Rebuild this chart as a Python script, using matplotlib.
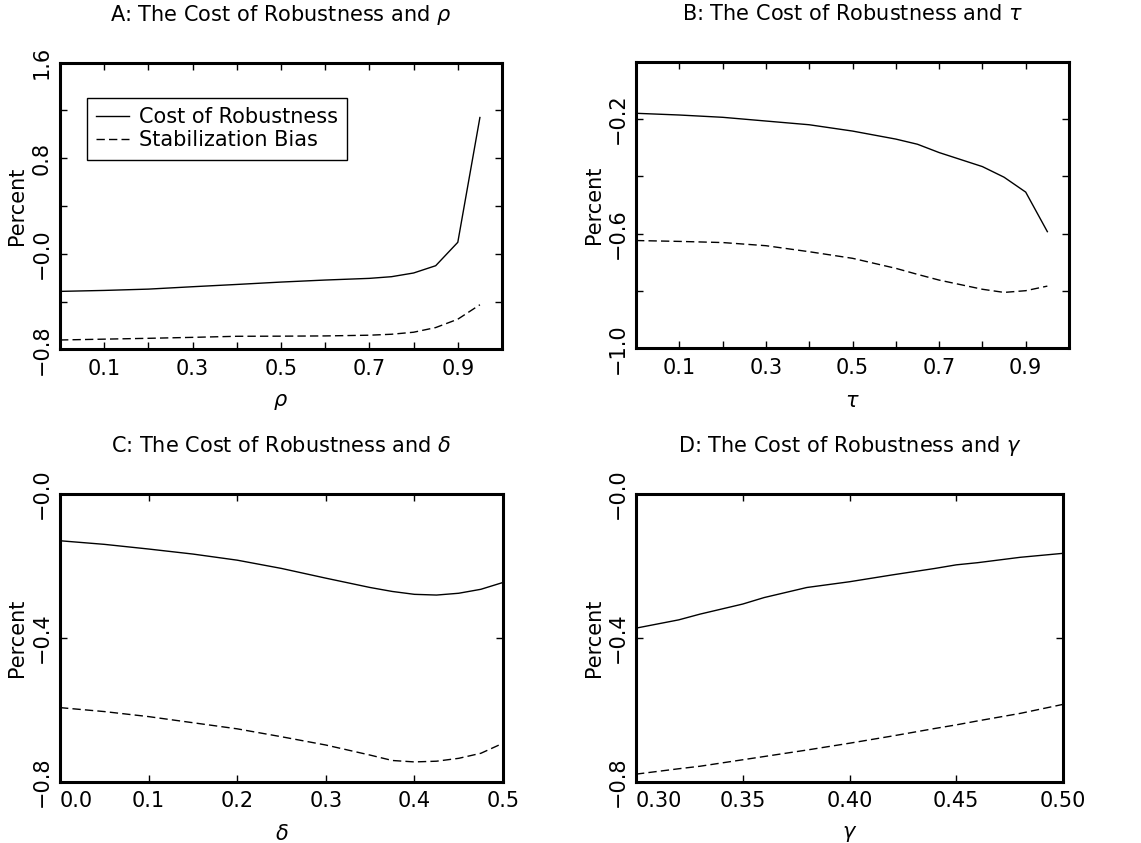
import numpy as np
import matplotlib.pyplot as plt
from matplotlib.ticker import FixedLocator, FixedFormatter

# Panel A: rho
rho = [0.0, 0.1, 0.2, 0.3, 0.4, 0.5, 0.6, 0.7, 0.75, 0.8, 0.85, 0.9, 0.95]
cost_rho = [-0.315, -0.307, -0.296, -0.276, -0.257, -0.237, -0.220, -0.206, -0.192, -0.161, -0.100, 0.096, 1.141]
bias_rho = [-0.722, -0.715, -0.708, -0.700, -0.691, -0.690, -0.688, -0.682, -0.674, -0.657, -0.618, -0.548, -0.427]

# Panel B: tau
tau = [0.0, 0.1, 0.2, 0.3, 0.4, 0.5, 0.6, 0.65, 0.7, 0.8, 0.85, 0.9, 0.95]
cost_tau = [-0.180, -0.186, -0.194, -0.207, -0.220, -0.242, -0.270, -0.288, -0.317, -0.366, -0.403, -0.455, -0.593]
bias_tau = [-0.624, -0.627, -0.631, -0.642, -0.663, -0.686, -0.721, -0.742, -0.762, -0.794, -0.805, -0.799, -0.783]

# Panel C: delta
delta = [0.0, 0.05, 0.1, 0.15, 0.2, 0.25, 0.3, 0.35, 0.375, 0.4, 0.425, 0.45, 0.475, 0.5]
cost_delta = [-0.130, -0.140, -0.153, -0.167, -0.184, -0.207, -0.234, -0.260, -0.271, -0.279, -0.281, -0.276, -0.265, -0.246]
bias_delta = [-0.594, -0.605, -0.619, -0.636, -0.653, -0.675, -0.698, -0.726, -0.741, -0.745, -0.743, -0.735, -0.721, -0.693]

# Panel D: gamma
gamma = [0.30, 0.32, 0.33, 0.35, 0.36, 0.38, 0.40, 0.42, 0.44, 0.45, 0.46, 0.48, 0.50]
cost_gamma = [-0.373, -0.350, -0.334, -0.306, -0.288, -0.260, -0.244, -0.225, -0.207, -0.197, -0.191, -0.176, -0.165]
bias_gamma = [-0.779, -0.764, -0.757, -0.739, -0.730, -0.712, -0.693, -0.673, -0.652, -0.642, -0.631, -0.610, -0.585]

fs = 15
plt.rcParams['font.family'] = 'DejaVu Sans'
plt.rcParams['font.size'] = fs

W, H = 1141, 843
fig = plt.figure(figsize=(W/100, H/100), dpi=100)

def box(l, r, t, b):
    return [l/W, 1-b/H, (r-l)/W, (b-t)/H]

panels = [
    dict(pos=box(60, 502, 62.7, 349.3), x=rho, c=cost_rho, s=bias_rho,
         title=r'A: The Cost of Robustness and $\rho$', xl=r'$\rho$',
         xlim=(0, 1), xt=[0.1*i for i in range(1, 10)],
         xtl=['0.1', '', '0.3', '', '0.5', '', '0.7', '', '0.9'],
         ylim=(-0.8, 1.6), yt=[-0.8, -0.4, 0.0, 0.4, 0.8, 1.2, 1.6],
         ytl=['\u22120.8', '', '\u22120.0', '', '0.8', '', '1.6'], first_left=False),
    dict(pos=box(636, 1069, 61.7, 348.3), x=tau, c=cost_tau, s=bias_tau,
         title=r'B: The Cost of Robustness and $\tau$', xl=r'$\tau$',
         xlim=(0, 1), xt=[0.1*i for i in range(1, 10)],
         xtl=['0.1', '', '0.3', '', '0.5', '', '0.7', '', '0.9'],
         ylim=(-1.0, 0.0), yt=[-1.0, -0.8, -0.6, -0.4, -0.2, 0.0],
         ytl=['\u22121.0', '', '\u22120.6', '', '\u22120.2', ''], first_left=False),
    dict(pos=box(60, 503, 494, 781.7), x=delta, c=cost_delta, s=bias_delta,
         title=r'C: The Cost of Robustness and $\delta$', xl=r'$\delta$',
         xlim=(0, 0.5), xt=[0.0, 0.1, 0.2, 0.3, 0.4, 0.5],
         xtl=['0.0', '0.1', '0.2', '0.3', '0.4', '0.5'],
         ylim=(-0.8, 0.0), yt=[-0.8, -0.4, 0.0],
         ytl=['\u22120.8', '\u22120.4', '\u22120.0'], first_left=True),
    dict(pos=box(636, 1063, 494, 781.7), x=gamma, c=cost_gamma, s=bias_gamma,
         title=r'D: The Cost of Robustness and $\gamma$', xl=r'$\gamma$',
         xlim=(0.3, 0.5), xt=[0.30, 0.35, 0.40, 0.45, 0.50],
         xtl=['0.30', '0.35', '0.40', '0.45', '0.50'],
         ylim=(-0.8, 0.0), yt=[-0.8, -0.4, 0.0],
         ytl=['\u22120.8', '\u22120.4', '\u22120.0'], first_left=True),
]

for i, p in enumerate(panels):
    ax = fig.add_axes(p['pos'])
    ax.plot(p['x'], p['c'], 'k-', lw=1.0, label='Cost of Robustness')
    ax.plot(p['x'], p['s'], 'k', ls=(0, (6, 3)), lw=1.0, label='Stabilization Bias')
    ax.set_xlim(*p['xlim'])
    ax.set_ylim(*p['ylim'])
    ax.xaxis.set_major_locator(FixedLocator(p['xt']))
    ax.xaxis.set_major_formatter(FixedFormatter(p['xtl']))
    ax.yaxis.set_major_locator(FixedLocator(p['yt']))
    ax.yaxis.set_major_formatter(FixedFormatter(p['ytl']))
    ax.tick_params(direction='in', top=True, right=True, length=5, width=1.0,
                   labelsize=fs)
    ax.tick_params(axis='x', pad=7)
    ax.tick_params(axis='y', pad=6, labelrotation=90)
    for lab in ax.get_yticklabels():
        lab.set_va('center')
        lab.set_ha('right')
    if p['first_left']:
        ax.get_xticklabels()[0].set_ha('left')
    plt.setp(ax.spines.values(), linewidth=2.2)
    ax.set_title(p['title'], fontsize=fs, pad=30)
    ax.set_xlabel(p['xl'], fontsize=fs, labelpad=9)
    ax.set_ylabel('Percent', fontsize=fs, labelpad=3)
    if i == 0:
        leg = ax.legend(loc='upper left', bbox_to_anchor=(0.061, 0.877),
                        borderaxespad=0, fontsize=fs, fancybox=False,
                        edgecolor='k', framealpha=1, handlelength=1.55,
                        borderpad=0.45, labelspacing=0.15, handletextpad=0.5)
        leg.get_frame().set_linewidth(1.0)

fig.savefig('out.png', dpi=100)
